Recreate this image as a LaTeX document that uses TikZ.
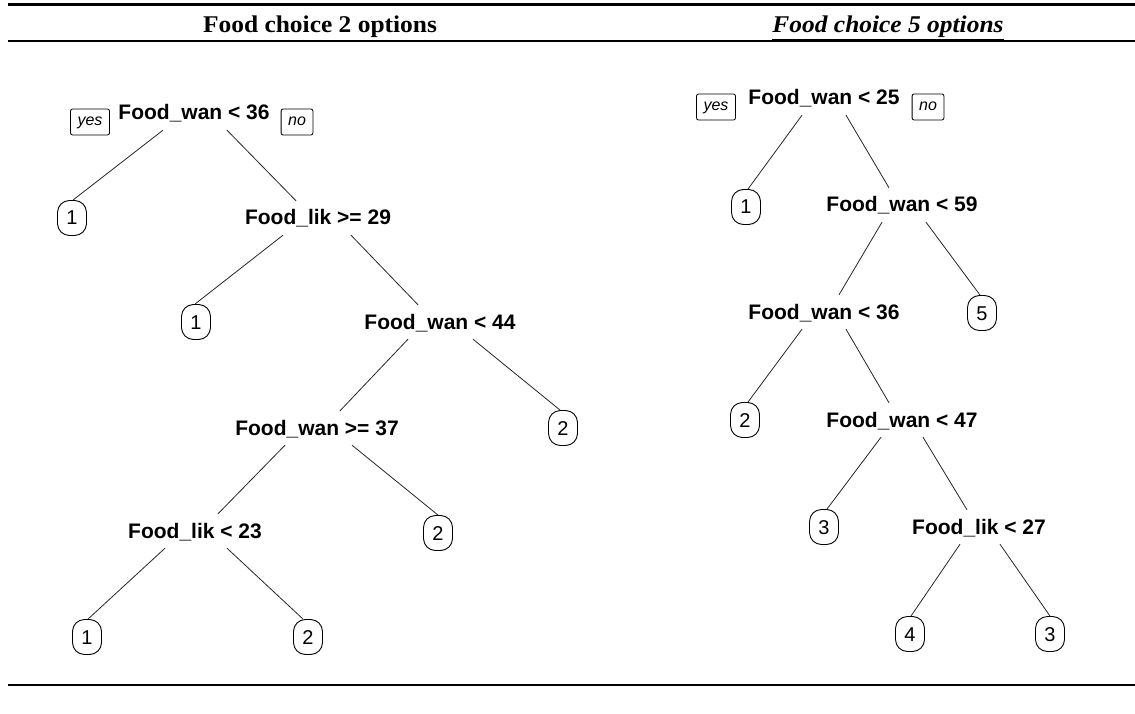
\documentclass[tikz,border=0pt]{standalone}
\usepackage{fontspec}
\setmainfont{Liberation Serif}
\newfontfamily\hdfont[FakeStretch=1.06]{Liberation Serif}
\newfontfamily\arialf{Liberation Sans}
\tikzset{
  cond/.style={font=\arialf\bfseries\fontsize{21}{24}\selectfont, inner xsep=0pt, inner ysep=10pt, text height=14pt, text depth=0pt},
  leaf/.style={draw, line width=0.9pt, rounded corners=12pt, minimum width=29pt, minimum height=35pt, inner sep=0pt, text height=14pt, text depth=0pt, font=\arialf\fontsize{20}{22}\selectfont},
  yn/.style={draw, line width=0.8pt, rounded corners=2pt, minimum height=26pt, inner xsep=7pt, inner ysep=0pt, text height=11pt, text depth=3pt, font=\arialf\itshape\fontsize{16}{18}\selectfont},
  br/.style={line width=0.8pt, draw=black!85},
  hd/.style={font=\hdfont\bfseries\fontsize{24}{28}\selectfont, inner sep=0pt, anchor=base},
  rule/.style={line width=#1}
}
\begin{document}
\begin{tikzpicture}[x=1pt,y=-1pt]
\useasboundingbox (0,0) rectangle (1135,714);
% rules
\coordinate (t1) at (8,5); \coordinate (t2) at (1135,5);
\coordinate (h1) at (8,41); \coordinate (h2) at (1135,41);
\coordinate (b1) at (8,685); \coordinate (b2) at (1135,685);
\draw[rule=3pt] (t1) -- (t2);
\draw[rule=2pt] (h1) -- (h2);
\draw[rule=2.5pt] (b1) -- (b2);
% headers
\node[hd] (hL) at (320,33) {Food choice 2 options};
\node[hd] (hR) at (888,33) {\underline{\itshape Food choice 5 options}};

% left tree
\node[cond] (L0) at (194,113) {Food\_wan < 36};
\node[yn] (yesL) at (90,122) {yes};
\node[yn] (noL) at (297,122) {no};
\node[leaf] (A1) at (72,218) {1};
\node[cond] (L1) at (318,218) {Food\_lik >= 29};
\node[leaf] (A2) at (196,322) {1};
\node[cond] (L2) at (440,322) {Food\_wan < 44};
\node[cond] (L3) at (317,428) {Food\_wan >= 37};
\node[leaf] (A3) at (563,428) {2};
\node[cond] (L4) at (195,531) {Food\_lik < 23};
\node[leaf] (A4) at (438,533) {2};
\node[leaf] (A5) at (87,637) {1};
\node[leaf] (A6) at (308,637) {2};

\draw[br] ([xshift=-31pt]L0.south) -- ([xshift=1pt]A1.north);
\draw[br] ([xshift=33pt]L0.south) -- ([xshift=-22pt]L1.north);
\draw[br] ([xshift=-35pt]L1.south) -- ([xshift=-1pt]A2.north);
\draw[br] ([xshift=33pt]L1.south) -- ([xshift=-22pt]L2.north);
\draw[br] ([xshift=-32pt]L2.south) -- ([xshift=23pt]L3.north);
\draw[br] ([xshift=33pt]L2.south) -- ([xshift=-3pt]A3.north);
\draw[br] ([xshift=-32pt]L3.south) -- ([xshift=23pt]L4.north);
\draw[br] ([xshift=35pt]L3.south) -- ([xshift=0pt]A4.north);
\draw[br] ([xshift=-30pt]L4.south) -- ([xshift=1pt]A5.north);
\draw[br] ([xshift=32pt]L4.south) -- ([xshift=-5pt]A6.north);

% right tree
\node[cond] (R0) at (824,98) {Food\_wan < 25};
\node[yn] (yesR) at (716,107) {yes};
\node[yn] (noR) at (928,107) {no};
\node[leaf] (B1) at (746,207) {1};
\node[cond] (R1) at (902,205) {Food\_wan < 59};
\node[cond] (R2) at (824,312) {Food\_wan < 36};
\node[leaf] (B2) at (982,313) {5};
\node[leaf] (B3) at (745,420) {2};
\node[cond] (R3) at (902,420) {Food\_wan < 47};
\node[leaf] (B4) at (824,527) {3};
\node[cond] (R4) at (979,527) {Food\_lik < 27};
\node[leaf] (B5) at (910,634) {4};
\node[leaf] (B6) at (1050,634) {3};

\draw[br] ([xshift=-22pt]R0.south) -- ([xshift=2pt]B1.north);
\draw[br] ([xshift=22pt]R0.south) -- ([xshift=-13pt]R1.north);
\draw[br] ([xshift=-20pt]R1.south) -- ([xshift=15pt]R2.north);
\draw[br] ([xshift=24pt]R1.south) -- ([xshift=-2pt]B2.north);
\draw[br] ([xshift=-22pt]R2.south) -- ([xshift=3pt]B3.north);
\draw[br] ([xshift=22pt]R2.south) -- ([xshift=-13pt]R3.north);
\draw[br] ([xshift=-21pt]R3.south) -- ([xshift=3pt]B4.north);
\draw[br] ([xshift=21pt]R3.south) -- ([xshift=-12pt]R4.north);
\draw[br] ([xshift=-19pt]R4.south) -- ([xshift=1pt]B5.north);
\draw[br] ([xshift=21pt]R4.south) -- ([xshift=0pt]B6.north);
\end{tikzpicture}
\end{document}
